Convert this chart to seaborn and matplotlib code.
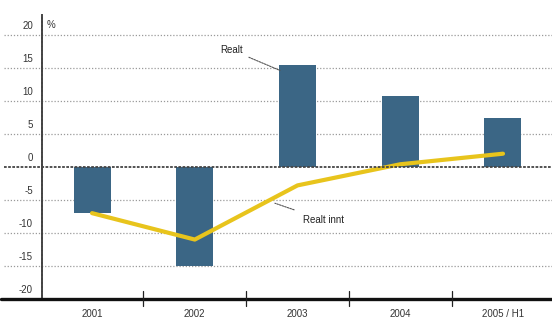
import numpy as np
import pandas as pd
import seaborn as sns
import matplotlib
matplotlib.use("Agg")
import matplotlib.pyplot as plt
import matplotlib.transforms as mtransforms

# Data
years = ["2001", "2002", "2003", "2004", "2005 / H1"]
bar_values = [-7.0, -15.0, 15.5, 10.8, 7.4]
line_values = [-7.0, -11.0, -2.8, 0.4, 2.0]
y_ticks = [20, 15, 10, 5, 0, -5, -10, -15, -20]
y_tick_labels = ["20", "15", "10", "5", "0", "-5", "-10", "-15", "-20"]
bar_label = "Realt"
line_label = "Realt innt"

sns.set_theme(style="white")
plt.rcParams["font.family"] = ["Liberation Sans", "DejaVu Sans"]

fig = plt.figure(figsize=(5.52, 3.23), dpi=100)
ax = fig.add_axes([42 / 552, 1 - 299 / 323, 510 / 552, 284 / 323])

df = pd.DataFrame({"year": years, "value": bar_values})
sns.barplot(data=df, x="year", y="value", color="#3b6685", width=0.36,
            saturation=1, ax=ax, zorder=3)
for p in ax.patches:
    p.set_edgecolor("none")

pos = np.arange(len(years))
sns.lineplot(x=pos, y=line_values, color="#e8c41c", linewidth=3.0, ax=ax,
             zorder=4, solid_capstyle="round", solid_joinstyle="round")

ax.set_xlim(-0.487, len(years) - 0.523)
ax.set_ylim(-20, 23)

# grid lines extending into the label margin
for v in y_ticks:
    if v in (0, -20):
        continue
    ax.axhline(v, xmin=-0.075, xmax=1, color="#9a9a9a", linestyle=(0, (1, 1.5)),
               linewidth=0.9, clip_on=False, zorder=1)
ax.axhline(0, xmin=-0.075, xmax=1, color="#444444", linestyle=(0, (1.5, 0.8)),
           linewidth=1.3, clip_on=False, zorder=5)
ax.axhline(-20, xmin=-0.08, xmax=1, color="#111111", linewidth=2.4,
           clip_on=False, zorder=6)

# axis spines
for s in ["top", "right", "bottom"]:
    ax.spines[s].set_visible(False)
ax.spines["left"].set_color("#444444")
ax.spines["left"].set_linewidth(1.4)
ax.spines["left"].set_linestyle((0, (1.5, 0.6)))

# y labels sitting just above their grid line
ax.set_yticks([])
ax.set_ylabel("")
ax.set_xlabel("")
offset = mtransforms.offset_copy(ax.get_yaxis_transform(), fig=fig, x=-9, y=9, units="dots")
for v, lab in zip(y_ticks, y_tick_labels):
    ax.text(0, v, lab, transform=offset, ha="right", va="center",
            fontsize=7, color="#333333")
ax.text(0, 20, "%", transform=mtransforms.offset_copy(ax.get_yaxis_transform(), fig=fig,
        x=5, y=10, units="dots"), ha="left", va="center", fontsize=7, color="#333333")

# x labels and divider ticks
ax.set_xticks(pos)
ax.set_xticklabels(years, fontsize=7, color="#333333")
ax.tick_params(axis="x", length=0, pad=7)
for d in pos[:-1] + 0.5:
    ax.plot([d, d], [-21.0, -18.8], color="#222222", linewidth=0.9,
            clip_on=False, zorder=7)

# annotations
ax.annotate(bar_label, xy=(1.83, 14.6), xytext=(1.36, 17.7), fontsize=7,
            color="#222222", ha="center", va="center",
            arrowprops=dict(arrowstyle="-", color="#555555", lw=0.8,
                            linestyle=(0, (1.5, 1)), shrinkA=2, shrinkB=0))
ax.annotate(line_label, xy=(1.78, -5.5), xytext=(2.05, -8.0), fontsize=7,
            color="#222222", ha="left", va="center",
            arrowprops=dict(arrowstyle="-", color="#555555", lw=0.8,
                            linestyle=(0, (1.5, 1)), shrinkA=4, shrinkB=0))

fig.savefig("out.png", dpi=100)
